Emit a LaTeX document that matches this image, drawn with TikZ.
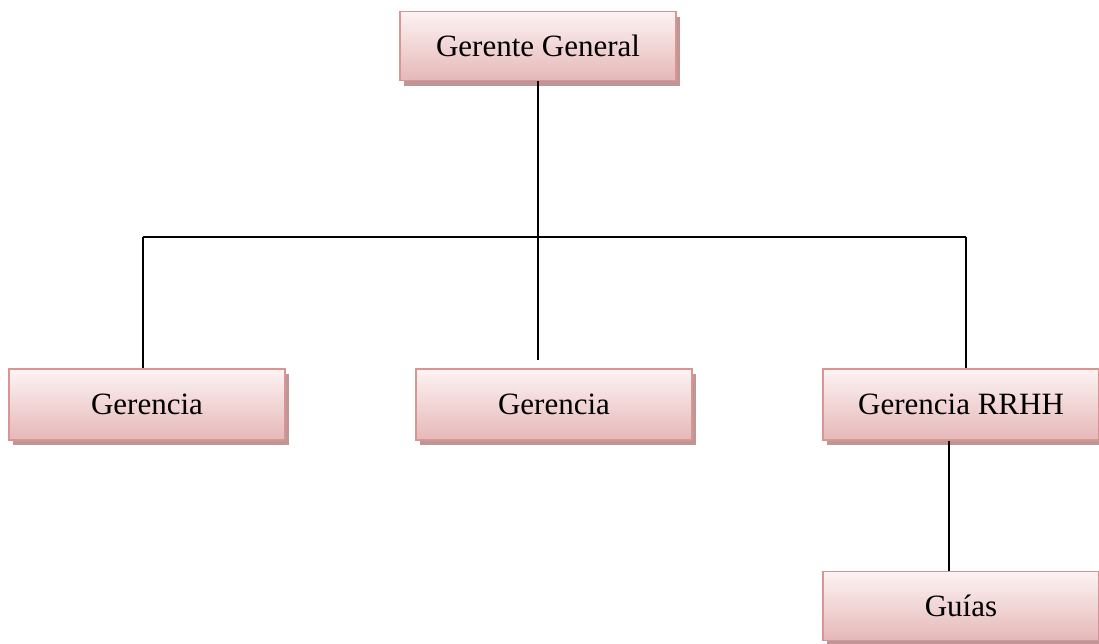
\documentclass[tikz,border=0pt]{standalone}
\usepackage{fontspec}
\setmainfont{Liberation Serif}
\usetikzlibrary{shadows}
\definecolor{boxtop}{RGB}{253,243,243}
\definecolor{boxbot}{RGB}{229,184,183}
\definecolor{boxline}{RGB}{217,149,148}
\definecolor{shade}{RGB}{190,150,150}
\tikzset{
  orgbox/.style={draw=boxline, line width=1.5pt, top color=boxtop, bottom color=boxbot,
    minimum width=276pt, minimum height=69pt, inner sep=0pt,
    font=\fontsize{31}{36}\selectfont,
    drop shadow={shadow xshift=4pt, shadow yshift=-5pt, fill=shade, opacity=1}},
  link/.style={line width=1.4pt, black}
}
\begin{document}
\begin{tikzpicture}[x=1pt,y=-1pt]
\useasboundingbox (0,0) rectangle (1099,643);
\node[orgbox] (gg) at (538,46) {Gerente General};
\node[orgbox, minimum height=71pt] (g1) at (147,404.5) {Gerencia};
\node[orgbox, minimum height=71pt] (g2) at (554,404.5) {Gerencia};
\node[orgbox, minimum height=71pt] (g3) at (961,404.5) {Gerencia RRHH};
\node[orgbox] (gu) at (961,606) {Guías};
\coordinate (hl) at (143,237);
\coordinate (hr) at (966,237);
\coordinate (mid) at (538,360);
\coordinate (r) at (949,0);
\draw[link] (gg.south) -- (gg.south |- hl);
\draw[link] (hl) -- (hr);
\draw[link] (hl) -- (hl |- g1.north);
\draw[link] (mid |- hl) -- (mid);
\draw[link] (hr) -- (hr |- g3.north);
\draw[link] (r |- g3.south) -- (r |- gu.north);
\end{tikzpicture}
\end{document}
